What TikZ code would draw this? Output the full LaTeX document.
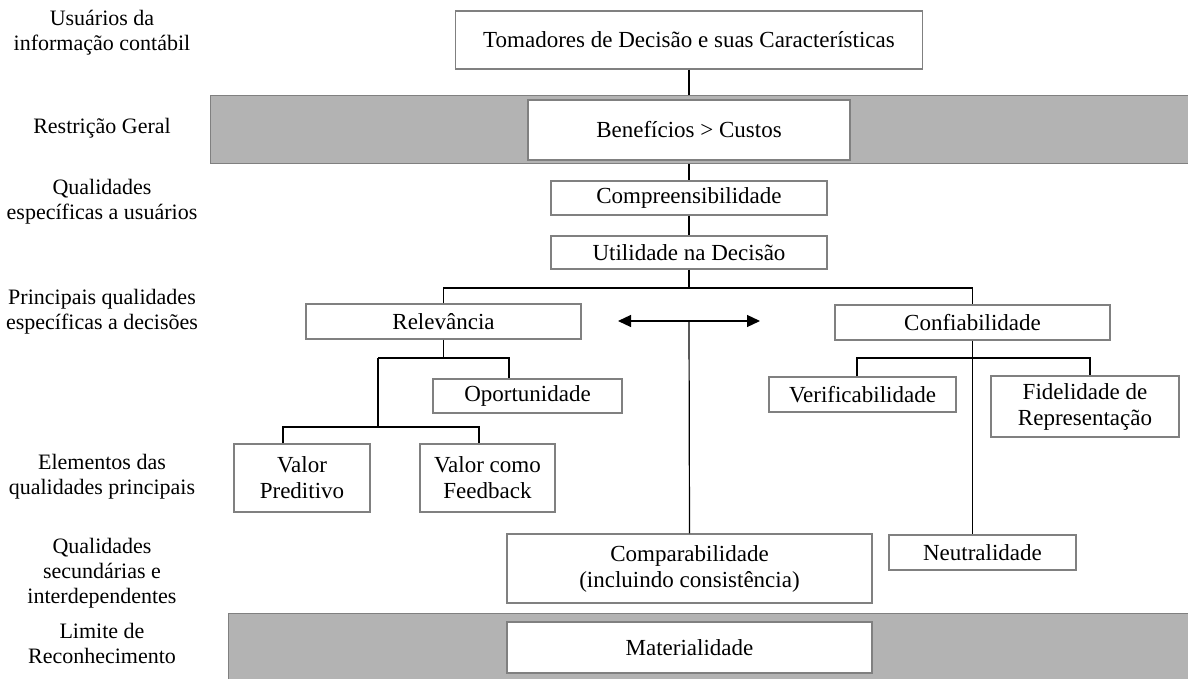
\documentclass[tikz,border=0pt]{standalone}
\usepackage{fontspec}
\setmainfont{Liberation Serif}
\usetikzlibrary{arrows.meta}
\definecolor{bandgray}{HTML}{B3B3B3}
\definecolor{edgegray}{HTML}{808080}

\begin{document}
\begin{tikzpicture}[x=0.5pt, y=-0.5pt, >={Triangle[length=6.5pt, width=6pt]},
	box/.style={draw=edgegray, fill=white, line width=0.6pt, inner sep=0pt, align=center, font=\fontsize{11.5}{13}\selectfont},
	band/.style={draw=edgegray, fill=bandgray, line width=0.7pt, inner sep=0pt, anchor=north west},
	lvl/.style={align=center, font=\fontsize{11}{12.5}\selectfont},
	link/.style={line width=0.6pt}]
		\useasboundingbox (0,0) rectangle (1188,679);
		%bands
		\node[band, minimum width=490pt, minimum height=34pt] (restr) at (210,95) {};
		\node[band, minimum width=481pt, minimum height=34pt] (limite) at (228,613) {};
		%levels
		\node[lvl] (lab1) at (102,33) {Usuários da\\informação contábil};
		\node[lvl] (lab2) at (102,128) {Restrição Geral};
		\node[lvl] (lab3) at (102,202) {Qualidades\\específicas a usuários};
		\node[lvl] (lab4) at (102,312) {Principais qualidades\\específicas a decisões};
		\node[lvl] (lab5) at (102,477) {Elementos das\\qualidades principais};
		\node[lvl] (lab6) at (102,573) {Qualidades\\secundárias e\\interdependentes};
		\node[lvl] (lab7) at (102,643) {Limite de\\Reconhecimento};
		%boxes
		\node[box, minimum width=233.5pt, minimum height=29pt] (tomadores) at (689,40) {Tomadores de Decisão e suas Características};
		\node[box, minimum width=161pt, minimum height=30pt] (beneficios) at (689,130) {Benefícios > Custos};
		\node[box, minimum width=138pt, minimum height=17pt] (compreens) at (689,198) {Compreensibilidade};
		\node[box, minimum width=138pt, minimum height=16.5pt] (utilidade) at (689,252.5) {Utilidade na Decisão};
		\node[box, minimum width=137.5pt, minimum height=17.5pt] (relevancia) at (443.5,321.5) {Relevância};
		\node[box, minimum width=137.5pt, minimum height=17.5pt] (confiab) at (972.5,322.5) {Confiabilidade};
		\node[box, minimum width=94.5pt, minimum height=17pt] (oportun) at (527.5,396) {Oportunidade};
		\node[box, minimum width=68pt, minimum height=34pt] (preditivo) at (302,478) {Valor\\Preditivo};
		\node[box, minimum width=67.5pt, minimum height=34pt] (feedback) at (487.5,478) {Valor como\\Feedback};
		\node[box, minimum width=93.5pt, minimum height=17.5pt] (verific) at (862.5,394.5) {Verificabilidade};
		\node[box, minimum width=94pt, minimum height=30.5pt] (fidelidade) at (1085,406.5) {Fidelidade de\\Representação};
		\node[box, minimum width=182.5pt, minimum height=34.5pt] (comparab) at (689.5,568.5) {Comparabilidade\\(incluindo consistência)};
		\node[box, minimum width=93.5pt, minimum height=17.5pt] (neutral) at (982.5,552.5) {Neutralidade};
		\node[box, minimum width=182.5pt, minimum height=25.5pt] (material) at (689.5,647.5) {Materialidade};
		%top
		\draw[link] (tomadores.south) -- (tomadores.south |- restr.north);
		\draw[link] (restr.south -| beneficios) -- (compreens.north);
		\draw[link] (compreens) -- (utilidade);
		\coordinate (split) at (689,288);
		\draw[link] (utilidade.south) -- (split);
		\draw[link] (relevancia.north) |- (split) -| (confiab.north);
		%relevancia
		\coordinate (r1) at (378,358); \coordinate (r2) at (509,358);
		\coordinate (r3) at (378,427); \coordinate (r4) at (283,427); \coordinate (r5) at (479,427);
		\draw[link] (relevancia.south) -- (relevancia.south |- r1);
		\draw[link] (r1) -- (r2) -- (r2 |- oportun.north);
		\draw[link] (r1) -- (r3);
		\draw[link] (r4 |- preditivo.north) -- (r4) -- (r5) -- (r5 |- feedback.north);
		%confiabilidade
		\coordinate (c1) at (857,358); \coordinate (c2) at (1090,358);
		\draw[link] (confiab.south) -- (confiab.south |- neutral.north);
		\draw[link] (c1 |- verific.north) -- (c1) -- (c2) -- (c2 |- fidelidade.north);
		%arrow
		\coordinate (arrL) at (618,321); \coordinate (arrR) at (760,321); \coordinate (arrM) at (689,321);
		\draw[link, <->] (arrL) -- (arrR);
		\draw[link] (arrM) -- (comparab.north);
\end{tikzpicture}
\end{document}
